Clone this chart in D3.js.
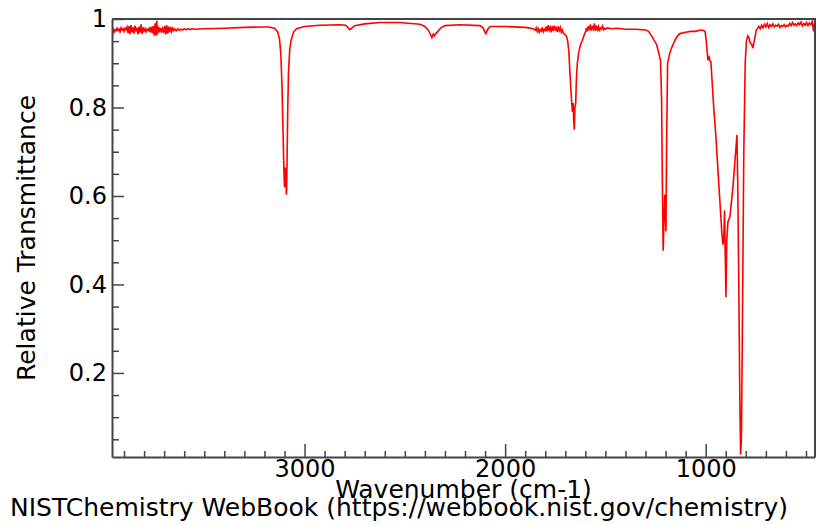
<!doctype html>
<html>
<head>
<meta charset="UTF-8">
<title>IR spectrum</title>
<script src="https://d3js.org/d3.v7.min.js"></script>
<style>
  body { margin: 0; background: #fff; }
  text { font-family: "DejaVu Sans", sans-serif; fill: #000; }
</style>
</head>
<body>
<script>
// axis labels / ticks
var xTickValues = [3000, 2000, 1000];
var yTickValues = [0.2, 0.4, 0.6, 0.8, 1];
var xTitle = "Wavenumber (cm-1)";
var yTitle = "Relative Transmittance";
var credit = "NISTChemistry WebBook (https://webbook.nist.gov/chemistry)";

// [wavenumber, transmittance]
var spectrum = [
  [3960,0.972],[3955,0.978],[3950,0.970],[3945,0.976],[3940,0.973],[3935,0.979],[3930,0.974],
  [3925,0.977],[3920,0.971],[3915,0.980],[3910,0.975],[3905,0.978],[3900,0.972],[3895,0.979],
  [3890,0.976],[3885,0.982],[3880,0.968],[3875,0.984],[3870,0.966],[3865,0.986],[3860,0.970],
  [3855,0.981],[3850,0.967],[3845,0.985],[3840,0.972],[3835,0.980],[3830,0.965],[3825,0.983],
  [3820,0.969],[3815,0.988],[3810,0.966],[3805,0.981],[3800,0.973],[3795,0.978],[3790,0.971],
  [3785,0.977],[3780,0.974],[3775,0.979],[3770,0.970],[3765,0.982],[3760,0.968],[3755,0.984],
  [3750,0.963],[3745,0.990],[3740,0.962],[3737,0.996],[3733,0.966],[3728,0.983],[3723,0.970],
  [3718,0.980],[3713,0.972],[3708,0.978],[3703,0.969],[3698,0.984],[3693,0.965],[3688,0.986],
  [3683,0.967],[3678,0.983],[3673,0.970],[3668,0.982],[3663,0.972],[3658,0.979],[3653,0.974],
  [3648,0.978],[3640,0.973],[3632,0.978],[3624,0.974],[3616,0.977],[3608,0.975],[3600,0.978],
  [3590,0.976],[3580,0.978],[3570,0.976],[3560,0.978],[3545,0.977],[3500,0.978],[3400,0.979],
  [3300,0.981],[3220,0.982],[3180,0.982],[3150,0.979],[3135,0.972],[3125,0.955],[3118,0.92],
  [3112,0.84],[3107,0.74],[3103,0.66],[3100,0.62],[3098,0.66],[3096,0.664],[3094,0.65],
  [3092,0.62],[3090,0.603],[3087,0.68],[3084,0.79],[3080,0.88],[3074,0.93],[3067,0.952],
  [3055,0.97],[3040,0.978],[3000,0.983],[2925,0.986],[2825,0.987],[2795,0.986],[2785,0.982],
  [2775,0.976],[2765,0.979],[2750,0.985],[2700,0.989],[2625,0.992],[2525,0.992],[2470,0.990],
  [2425,0.988],[2400,0.983],[2385,0.976],[2372,0.965],[2365,0.958],[2358,0.966],[2352,0.962],
  [2345,0.967],[2335,0.972],[2320,0.980],[2300,0.985],[2225,0.987],[2125,0.985],[2110,0.980],
  [2100,0.970],[2095,0.967],[2088,0.976],[2075,0.983],[2000,0.983],[1900,0.981],[1860,0.978],
  [1850,0.975],[1845,0.980],[1840,0.972],[1835,0.978],[1830,0.970],[1825,0.976],[1820,0.973],
  [1815,0.981],[1810,0.971],[1805,0.977],[1800,0.974],[1795,0.983],[1790,0.972],[1785,0.986],
  [1780,0.975],[1775,0.981],[1770,0.970],[1765,0.984],[1760,0.973],[1755,0.985],[1750,0.976],
  [1745,0.980],[1740,0.971],[1735,0.983],[1730,0.974],[1725,0.981],[1720,0.970],[1715,0.975],
  [1710,0.968],[1703,0.966],[1695,0.962],[1688,0.950],[1682,0.925],[1677,0.88],[1672,0.84],
  [1668,0.81],[1664,0.79],[1661,0.81],[1658,0.77],[1655,0.75],[1652,0.80],[1648,0.81],
  [1645,0.86],[1640,0.90],[1633,0.925],[1625,0.94],[1615,0.952],[1605,0.965],[1598,0.972],
  [1595,0.980],[1590,0.972],[1585,0.984],[1580,0.975],[1575,0.988],[1570,0.974],[1565,0.982],
  [1560,0.977],[1555,0.990],[1550,0.973],[1545,0.985],[1540,0.976],[1535,0.983],[1530,0.972],
  [1525,0.980],[1520,0.978],[1515,0.984],[1510,0.976],[1505,0.979],[1500,0.977],[1490,0.980],
  [1470,0.978],[1440,0.979],[1400,0.977],[1350,0.977],[1300,0.975],[1285,0.972],[1270,0.962],
  [1255,0.950],[1245,0.943],[1235,0.925],[1225,0.905],[1220,0.82],[1216,0.63],[1212,0.476],
  [1207,0.56],[1204,0.603],[1201,0.56],[1198,0.52],[1195,0.71],[1190,0.90],[1178,0.925],
  [1165,0.94],[1153,0.952],[1140,0.962],[1128,0.967],[1100,0.970],[1075,0.972],[1050,0.972],
  [1028,0.975],[1010,0.974],[1003,0.972],[997,0.95],[989,0.907],[983,0.914],[978,0.905],
  [974,0.903],[960,0.80],[950,0.74],[939,0.66],[919,0.513],[914,0.49],[910,0.50],[906,0.567],
  [903,0.48],[899,0.371],[895,0.50],[889,0.542],[879,0.553],[864,0.62],[854,0.68],[844,0.738],
  [840,0.62],[835,0.40],[830,0.15],[826,0.015],[822,0.05],[817,0.30],[810,0.70],[803,0.90],
  [797,0.95],[790,0.962],[785,0.958],[778,0.946],[770,0.942],[765,0.934],[758,0.95],[748,0.975],
  [740,0.980],[735,0.983],[728,0.978],[721,0.986],[714,0.980],[707,0.988],[700,0.982],[693,0.990],
  [686,0.981],[679,0.987],[672,0.983],[665,0.989],[658,0.982],[651,0.986],[644,0.984],[637,0.988],
  [630,0.981],[623,0.985],[616,0.983],[609,0.987],[602,0.982],[595,0.986],[588,0.984],[581,0.990],
  [574,0.985],[567,0.992],[560,0.986],[553,0.989],[546,0.985],[539,0.991],[532,0.987],[525,0.993],
  [518,0.984],[511,0.990],[504,0.986],[497,0.992],[490,0.985],[483,0.991],[476,0.987],[469,0.994],
  [462,0.972],[458,0.990],[455,0.993]
];

var W = 817, H = 525;
var padL = 112, padR = 815, padT = 19, padB = 457;
var axisColor = "#444";

var svg = d3.select("body").append("svg").attr("width", W).attr("height", H);

var x = d3.scaleLinear().domain([3960, 455]).range([padL, padR]);
var y = d3.scaleLinear().domain([0.01, 1]).range([padB, padT]);

svg.append("clipPath").attr("id", "plot")
  .append("rect").attr("x", padL).attr("y", padT - 2)
  .attr("width", padR - padL).attr("height", padB - padT + 2);

// spectrum line
var line = d3.line().x(function(d){ return x(d[0]); }).y(function(d){ return y(d[1]); });
svg.append("path").datum(spectrum)
  .attr("clip-path", "url(#plot)")
  .attr("d", line)
  .attr("fill", "none")
  .attr("stroke", "#ff0000")
  .attr("stroke-width", 1.6);

// minor ticks
var xMinor = d3.range(500, 4000, 100).filter(function(v){ return v % 1000 != 0; });
var yMinor = d3.range(1, 20).map(function(i){ return i / 20; }).filter(function(v){ return Math.round(v * 20) % 4 != 0; });

svg.append("g").attr("transform", "translate(0," + padB + ")")
  .call(d3.axisBottom(x).tickValues(xMinor).tickSize(-6).tickFormat(""))
  .call(function(g){ g.select(".domain").remove(); });
svg.append("g").attr("transform", "translate(" + padL + ",0)")
  .call(d3.axisLeft(y).tickValues(yMinor).tickSize(-7).tickFormat(""))
  .call(function(g){ g.select(".domain").remove(); });

// major axes
var xAxis = svg.append("g").attr("transform", "translate(0," + padB + ")")
  .call(d3.axisBottom(x).tickValues(xTickValues).tickSize(-13).tickSizeOuter(0).tickPadding(3)
    .tickFormat(function(d){ return String(d); }));
var yAxis = svg.append("g").attr("transform", "translate(" + padL + ",0)")
  .call(d3.axisLeft(y).tickValues(yTickValues).tickSize(-12).tickSizeOuter(0).tickPadding(5)
    .tickFormat(function(d){ return String(d); }));

[xAxis, yAxis].forEach(function(g){
  g.selectAll("text").style("font-size", "24px").style("font-family", "DejaVu Sans").attr("fill", "#000");
});
svg.selectAll(".tick line").attr("stroke", axisColor).attr("stroke-width", 1.5);
svg.selectAll(".domain").attr("stroke", axisColor).attr("stroke-width", 2);

// top and right frame
svg.append("path")
  .attr("d", "M" + padL + "," + padT + "H" + padR + "V" + padB)
  .attr("fill", "none").attr("stroke", axisColor).attr("stroke-width", 2);

// titles
svg.append("text").attr("x", (padL + padR) / 2).attr("y", 498)
  .attr("text-anchor", "middle").style("font-size", "25px").text(xTitle);
svg.append("text").attr("transform", "translate(35," + (padT + padB) / 2 + ") rotate(-90)")
  .attr("text-anchor", "middle").style("font-size", "25px").text(yTitle);
svg.append("text").attr("x", 10).attr("y", 516)
  .style("font-size", "25px").text(credit);
</script>
</body>
</html>
